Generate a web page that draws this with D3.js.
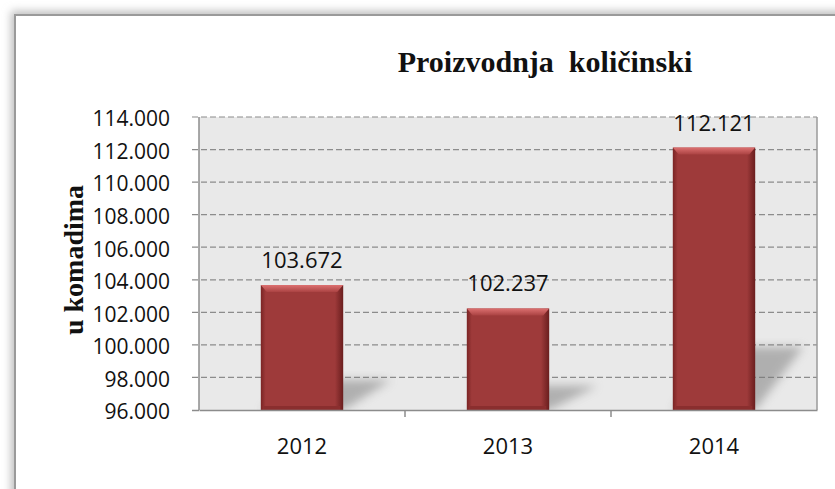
<!DOCTYPE html>
<html>
<head>
<meta charset="utf-8">
<script src="https://cdn.jsdelivr.net/npm/d3@7"></script>
<style>
  body { margin: 0; background: #fff; }
  svg { display: block; }
</style>
</head>
<body>
<div id="chart"></div>
<script>
var years = ["2012", "2013", "2014"];
var values = [103672, 102237, 112121];
var yTicks = [96000, 98000, 100000, 102000, 104000, 106000, 108000, 110000, 112000, 114000];

var width = 835, height = 489;
var margin = {top: 117, right: 18, bottom: 79, left: 199};
var innerW = width - margin.left - margin.right;
var innerH = height - margin.top - margin.bottom;
var numFont = "'Open Sans', 'DejaVu Sans', sans-serif";
var serifFont = "'Liberation Serif', 'Times New Roman', serif";

var loc = d3.formatLocale({decimal: ",", thousands: ".", grouping: [3], currency: ["", ""]});
var fmt = loc.format(",d");

var svg = d3.select("#chart").append("svg")
    .attr("width", width)
    .attr("height", height);

var defs = svg.append("defs");

// frame shadow
var fs = defs.append("filter").attr("id", "frameShadow")
    .attr("x", "-5%").attr("y", "-5%").attr("width", "110%").attr("height", "110%");
fs.append("feGaussianBlur").attr("stdDeviation", 4);

// bar gradients
var hg = defs.append("linearGradient").attr("id", "barH")
    .attr("x1", 0).attr("x2", 1).attr("y1", 0).attr("y2", 0);
hg.append("stop").attr("offset", "0%").attr("stop-color", "#7a2424");
hg.append("stop").attr("offset", "6%").attr("stop-color", "#9e3a3a");
hg.append("stop").attr("offset", "90%").attr("stop-color", "#9e3a3a");
hg.append("stop").attr("offset", "100%").attr("stop-color", "#6a1e1e");

var topG = defs.append("linearGradient").attr("id", "barTop")
    .attr("x1", 0).attr("x2", 0).attr("y1", 0).attr("y2", 1);
topG.append("stop").attr("offset", "0%").attr("stop-color", "#dc7070");
topG.append("stop").attr("offset", "100%").attr("stop-color", "#aa4242");

var sh = defs.append("filter").attr("id", "barShadow")
    .attr("x", "-50%").attr("y", "-50%").attr("width", "200%").attr("height", "200%");
sh.append("feGaussianBlur").attr("stdDeviation", 5);

defs.append("clipPath").attr("id", "plotClip")
    .append("rect").attr("width", innerW).attr("height", innerH);

// outer frame with soft shadow
svg.append("rect")
    .attr("x", 11).attr("y", 11)
    .attr("width", width).attr("height", height)
    .attr("fill", "#bdbdbd")
    .attr("filter", "url(#frameShadow)");
svg.append("rect")
    .attr("x", 15).attr("y", 15)
    .attr("width", width).attr("height", height)
    .attr("fill", "#fff")
    .attr("stroke", "#9a9a9a")
    .attr("stroke-width", 2);

var g = svg.append("g")
    .attr("transform", "translate(" + margin.left + "," + margin.top + ")");

var x = d3.scaleBand()
    .domain(years)
    .range([0, innerW])
    .paddingInner(0.6)
    .paddingOuter(0.3);

var xb = d3.scaleBand().domain(years).range([0, innerW]);

var y = d3.scaleLinear()
    .domain([96000, 114000])
    .range([innerH, 0]);

// plot background
g.append("rect")
    .attr("width", innerW).attr("height", innerH)
    .attr("fill", "#e9e9e9");

// gridlines (running through the tick marks)
g.selectAll(".grid")
    .data(yTicks.slice(1))
    .enter().append("line")
    .attr("class", "grid")
    .attr("x1", -7).attr("x2", innerW)
    .attr("y1", d => y(d)).attr("y2", d => y(d))
    .attr("stroke", "#8c8c8c")
    .attr("stroke-width", 1.2)
    .attr("stroke-dasharray", "6,3");

// right border of plot
g.append("line")
    .attr("x1", innerW).attr("x2", innerW)
    .attr("y1", 0).attr("y2", innerH)
    .attr("stroke", "#9a9a9a").attr("stroke-width", 1.5);

// perspective bar shadows
g.append("g").attr("clip-path", "url(#plotClip)")
    .selectAll(".shadow")
    .data(values)
    .enter().append("path")
    .attr("class", "shadow")
    .attr("d", function(d, i) {
        var x0 = x(years[i]), x1 = x0 + x.bandwidth();
        var h = (innerH - y(d)) * 0.24;
        var dx = 48;
        return "M" + x0 + "," + innerH +
               "L" + x1 + "," + innerH +
               "L" + (x1 + dx) + "," + (innerH - h) +
               "L" + (x0 + dx) + "," + (innerH - h) + "Z";
    })
    .attr("fill", "#777")
    .attr("opacity", 0.5)
    .attr("filter", "url(#barShadow)");

// bars
var bars = g.selectAll(".bar")
    .data(values)
    .enter().append("g")
    .attr("class", "bar");

bars.append("rect")
    .attr("x", (d, i) => x(years[i]))
    .attr("y", d => y(d))
    .attr("width", x.bandwidth())
    .attr("height", d => innerH - y(d))
    .attr("fill", "url(#barH)");

bars.append("path")
    .attr("d", function(d, i) {
        var x0 = x(years[i]), x1 = x0 + x.bandwidth(), y0 = y(d);
        return "M" + x0 + "," + y0 + "L" + x1 + "," + y0 +
               "L" + (x1 - 6) + "," + (y0 + 7) + "L" + (x0 + 6) + "," + (y0 + 7) + "Z";
    })
    .attr("fill", "url(#barTop)");

bars.append("rect")
    .attr("x", (d, i) => x(years[i]) + 3)
    .attr("y", innerH - 4)
    .attr("width", x.bandwidth() - 6)
    .attr("height", 4)
    .attr("fill", "#8a2e2e");

// data labels
g.selectAll(".dlabel")
    .data(values)
    .enter().append("text")
    .attr("class", "dlabel")
    .attr("x", (d, i) => x(years[i]) + x.bandwidth() / 2)
    .attr("y", d => y(d) - 17)
    .attr("text-anchor", "middle")
    .style("font-family", numFont)
    .style("font-size", "22px")
    .attr("fill", "#111")
    .text(d => fmt(d));

// y axis
var yAxis = g.append("g")
    .call(d3.axisLeft(y).tickValues(yTicks).tickSize(7).tickFormat(fmt));
yAxis.select(".domain").attr("stroke", "#8c8c8c").attr("stroke-width", 1.5)
    .attr("d", "M0," + innerH + "V0");
yAxis.selectAll(".tick line").attr("stroke", "#8c8c8c").attr("stroke-width", 1.5);
yAxis.selectAll(".tick").filter((d, i) => i > 0).select("line").remove();
yAxis.selectAll("text")
    .attr("x", -29)
    .attr("dy", "0.42em")
    .style("font-family", numFont)
    .style("font-size", "21px")
    .attr("fill", "#111");

// x axis
var xAxis = g.append("g")
    .attr("transform", "translate(0," + innerH + ")")
    .call(d3.axisBottom(xb).tickSize(0));
xAxis.select(".domain").attr("stroke", "#8c8c8c").attr("stroke-width", 1.5);
xAxis.selectAll("text")
    .attr("y", 44)
    .attr("dy", null)
    .style("font-family", numFont)
    .style("font-size", "22px")
    .attr("fill", "#111");

// category separator ticks
g.selectAll(".xsep")
    .data(years.slice(1))
    .enter().append("line")
    .attr("class", "xsep")
    .attr("x1", d => xb(d)).attr("x2", d => xb(d))
    .attr("y1", innerH).attr("y2", innerH + 7)
    .attr("stroke", "#8c8c8c").attr("stroke-width", 1.5);

// title
svg.append("text")
    .attr("x", 545)
    .attr("y", 72)
    .attr("text-anchor", "middle")
    .style("font-family", serifFont)
    .style("font-weight", "bold")
    .style("font-size", "30px")
    .style("white-space", "pre")
    .attr("fill", "#111")
    .text("Proizvodnja  količinski");

// y label
svg.append("text")
    .attr("transform", "translate(83,260) rotate(-90)")
    .attr("text-anchor", "middle")
    .style("font-family", serifFont)
    .style("font-weight", "bold")
    .style("font-size", "28px")
    .attr("fill", "#111")
    .text("u komadima");
</script>
</body>
</html>
